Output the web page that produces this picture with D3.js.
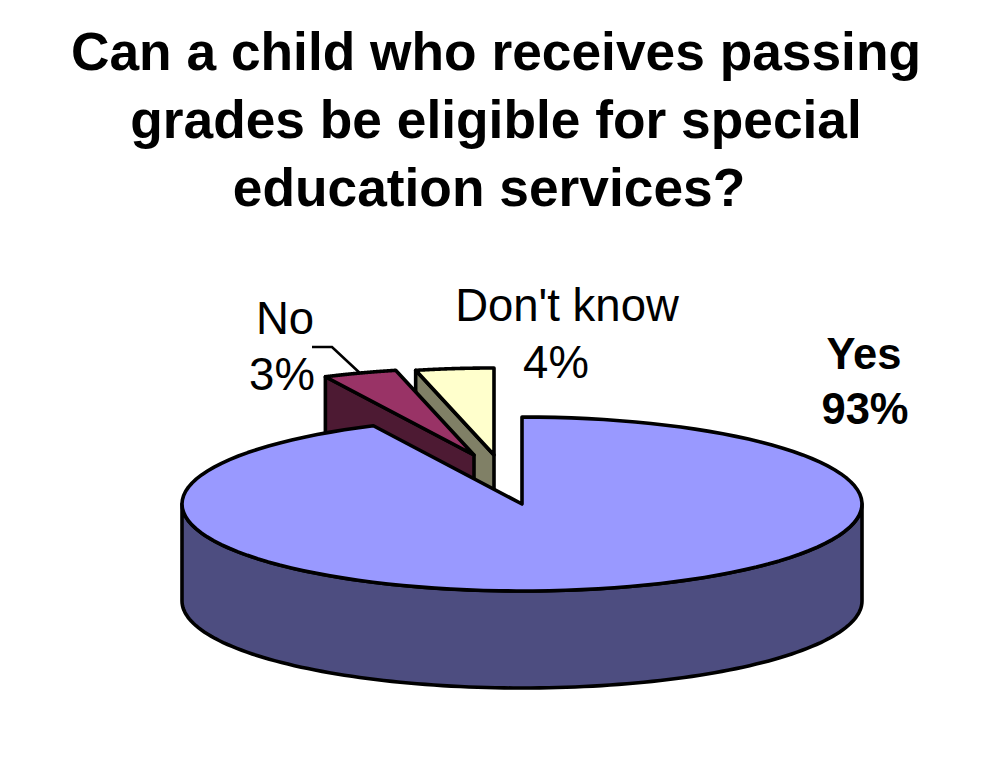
<!DOCTYPE html>
<html><head><meta charset="utf-8">
<script src="https://cdn.jsdelivr.net/npm/d3@7"></script>
<style>html,body{margin:0;padding:0;background:#fff}svg{display:block}text{font-family:"Liberation Sans",Arial,sans-serif;fill:#000}</style>
</head><body><svg id="c" width="997" height="762"></svg>
<script>
const categories = ["Yes", "No", "Don't know"];
const values = [92.8, 3.5, 3.7];
const valueLabels = ["93%", "3%", "4%"];
const titleLines = ["Can a child who receives passing", "grades be eligible for special", "education services?"];
const topColors = ["#9999ff", "#993366", "#ffffcc"];
const sideColors = ["#4d4d80", "#4d1a33", "#808066"];

const W = 997, H = 762;
const cx = 522, cy = 504, rx = 340, ry = 87, depth = 97, sw = 3.6;
const offsets = [[0, 0], [-48, -49], [-28, -49]];
const svg = d3.select("#c");

svg.append("g").selectAll("text").data(titleLines).join("text")
  .attr("x", (d, i) => i === 2 ? 489 : 496)
  .attr("y", (d, i) => 70 + i * 68)
  .attr("text-anchor", "middle")
  .attr("font-size", 53.3).attr("font-weight", "bold").text(d => d);

const arcs = d3.pie().sort(null).value(d => d)(values);
const sx = d3.scaleLinear().domain([-1, 1]).range([-rx, rx]);
const sy = d3.scaleLinear().domain([-1, 1]).range([-ry, ry]);
const pt = (a, i, dz = 0) => [cx + offsets[i][0] + sx(Math.sin(a)), cy + offsets[i][1] + sy(-Math.cos(a)) + dz];
const line = d3.line();
const steps = (a0, a1) => d3.range(0, 121).map(k => a0 + (a1 - a0) * k / 120);
const face = (a, i) => [[cx + offsets[i][0], cy + offsets[i][1]], pt(a, i), pt(a, i, depth), [cx + offsets[i][0], cy + offsets[i][1] + depth]];

const marks = svg.append("g").attr("stroke", "#000").attr("stroke-width", sw).attr("stroke-linejoin", "round");
const drawOrder = [2, 1, 0];
drawOrder.forEach(i => {
  const a = arcs[i];
  if (i > 0) {
    marks.append("path").attr("d", line(face(a.startAngle, i)) + "Z").attr("fill", sideColors[i]);
  } else {
    const a0 = Math.PI / 2, a1 = 3 * Math.PI / 2;
    const upper = steps(a0, a1).map(t => pt(t, 0));
    const lower = steps(a1, a0).map(t => pt(t, 0, depth));
    marks.append("path").attr("d", line(upper.concat(lower)) + "Z").attr("fill", sideColors[0]);
  }
  const rim = steps(a.startAngle, a.endAngle).map(t => pt(t, i));
  marks.append("path")
    .attr("d", line([[cx + offsets[i][0], cy + offsets[i][1]]].concat(rim)) + "Z")
    .attr("fill", topColors[i]);
});

const noMid = pt((arcs[1].startAngle + arcs[1].endAngle) / 2, 1);
svg.append("path").attr("fill", "none").attr("stroke", "#000").attr("stroke-width", 2.6)
  .attr("d", line([[312, 347], [332, 347], noMid]));

const labelLayout = [
  { x: [864, 865], y: [369, 424], size: 43.5, weight: "bold" },
  { x: [285, 282], y: [334, 390], size: 45.5, weight: "normal" },
  { x: [567, 556], y: [321, 378], size: 45.5, weight: "normal" }
];
labelLayout.forEach((l, i) => {
  [categories[i], valueLabels[i]].forEach((t, k) => {
    svg.append("text").attr("x", l.x[k]).attr("y", l.y[k]).attr("text-anchor", "middle")
      .attr("font-size", l.size).attr("font-weight", l.weight).text(t);
  });
});
</script></body></html>
